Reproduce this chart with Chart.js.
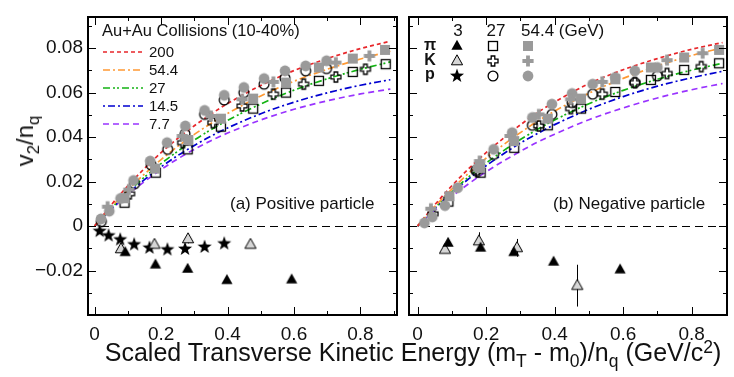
<!DOCTYPE html>
<html><head><meta charset="utf-8">
<script src="https://cdn.jsdelivr.net/npm/chart.js@4.4.0/dist/chart.umd.min.js"></script>
<style>
html,body{margin:0;padding:0;background:#fff;width:734px;height:377px;overflow:hidden;position:relative;}
canvas{position:absolute;top:0;}
#cL{left:0;} #cR{left:402px;}
.t{position:absolute;font-family:"Liberation Sans",Arial,sans-serif;color:#111;white-space:nowrap;line-height:1;}
#xt{left:413px;top:340px;font-size:25px;transform:translateX(-50%);}
#yt{left:25px;top:141px;font-size:24px;transform:translate(-50%,-50%) rotate(-90deg);}
sub{font-size:70%;vertical-align:baseline;position:relative;top:0.35em;}
sup{font-size:70%;vertical-align:baseline;position:relative;top:-0.45em;}
#err{position:absolute;left:0;top:0;color:red;font-size:10px;font-family:monospace;}
</style></head><body>
<canvas id="cL" width="404" height="377"></canvas>
<canvas id="cR" width="332" height="377"></canvas>
<div class="t" id="xt">Scaled Transverse Kinetic Energy (m<sub>T</sub> - m<sub>0</sub>)/n<sub>q</sub> (GeV/c<sup>2</sup>)</div>
<div class="t" id="yt">v<sub>2</sub>/n<sub>q</sub></div>
<div id="err"></div>
<script>
// ---------- axis ticks ----------
const xTicks = [0, 0.2, 0.4, 0.6, 0.8];
const xTickLabels = ['0', '0.2', '0.4', '0.6', '0.8'];
const xMinorTicks = [0.1, 0.3, 0.5, 0.7, 0.9];
const yTicks = [-0.02, 0, 0.02, 0.04, 0.06, 0.08];
const yTickLabels = ['\u22120.02', '0', '0.02', '0.04', '0.06', '0.08'];
const yMinorTicks = [-0.03, -0.01, 0.01, 0.03, 0.05, 0.07, 0.09];

// ---------- fit curves (energies in GeV) ----------
const energies = ['200', '54.4', '27', '14.5', '7.7'];
const curveX = [0, 0.05, 0.1, 0.15, 0.2, 0.25, 0.3, 0.35, 0.4, 0.5, 0.6, 0.7, 0.8, 0.89];
const posFit200 = [0, 0.0095, 0.0181, 0.0259, 0.0330, 0.0394, 0.0451, 0.0503, 0.0551, 0.0632, 0.0699, 0.0753, 0.0798, 0.0831];
const posFit54 = [0, 0.0085, 0.0163, 0.0234, 0.0299, 0.0358, 0.0412, 0.0461, 0.0506, 0.0585, 0.0651, 0.0705, 0.0751, 0.0786];
const posFit27 = [0, 0.0080, 0.0153, 0.0220, 0.0281, 0.0336, 0.0387, 0.0433, 0.0475, 0.0549, 0.0611, 0.0662, 0.0705, 0.0738];
const posFit14 = [0, 0.0077, 0.0147, 0.0209, 0.0266, 0.0317, 0.0362, 0.0404, 0.0441, 0.0505, 0.0557, 0.0599, 0.0633, 0.0658];
const posFit7 = [0, 0.0074, 0.0141, 0.0200, 0.0254, 0.0302, 0.0345, 0.0384, 0.0418, 0.0477, 0.0525, 0.0563, 0.0594, 0.0616];
const negFit200 = [0, 0.0095, 0.0181, 0.0259, 0.0330, 0.0394, 0.0455, 0.0510, 0.0558, 0.0640, 0.0703, 0.0753, 0.0795, 0.0825];
const negFit54 = [0, 0.0087, 0.0166, 0.0239, 0.0305, 0.0365, 0.0420, 0.0471, 0.0517, 0.0597, 0.0664, 0.0720, 0.0767, 0.0802];
const negFit27 = [0, 0.0081, 0.0155, 0.0222, 0.0283, 0.0338, 0.0389, 0.0435, 0.0477, 0.0550, 0.0610, 0.0660, 0.0701, 0.0732];
const negFit14 = [0, 0.0078, 0.0149, 0.0213, 0.0271, 0.0324, 0.0373, 0.0416, 0.0456, 0.0525, 0.0582, 0.0629, 0.0667, 0.0696];
const negFit7 = [0, 0.0070, 0.0133, 0.0191, 0.0244, 0.0292, 0.0336, 0.0377, 0.0413, 0.0478, 0.0531, 0.0576, 0.0613, 0.0641];

// ---------- measured points [x, v2/nq] ----------
const posPi54 = [[0.09,0.0125],[0.182,0.0258],[0.282,0.0387],[0.38,0.0483],[0.477,0.0573],[0.576,0.0645],[0.675,0.0713],[0.777,0.0753],[0.874,0.0792]];
const posK54 = [[0.039,0.0087],[0.103,0.0164],[0.264,0.0405],[0.35,0.0495],[0.444,0.057],[0.538,0.0648],[0.726,0.0735],[0.827,0.0765]];
const posP54 = [[0.019,0.0032],[0.044,0.0067],[0.078,0.0124],[0.117,0.0205],[0.167,0.0292],[0.218,0.0375],[0.273,0.045],[0.331,0.052],[0.39,0.0588],[0.449,0.0623],[0.51,0.0663],[0.573,0.0698],[0.635,0.072],[0.698,0.0743]];
const posPi27 = [[0.09,0.0105],[0.184,0.024],[0.28,0.0345],[0.38,0.0447],[0.477,0.0528],[0.576,0.060],[0.675,0.0653],[0.777,0.0693],[0.876,0.0728]];
const posK27 = [[0.105,0.0145],[0.265,0.0375],[0.356,0.0465],[0.444,0.054],[0.538,0.0593],[0.629,0.0638],[0.726,0.067],[0.815,0.0705]];
const posP27 = [[0.02,0.002],[0.12,0.019],[0.17,0.0275],[0.22,0.0345],[0.272,0.0415],[0.331,0.0502],[0.39,0.0567],[0.449,0.060],[0.51,0.0638],[0.573,0.0665],[0.635,0.0698],[0.698,0.0708]];
const posPi3 = [[0.092,-0.0118],[0.183,-0.0174],[0.28,-0.0193],[0.398,-0.0244],[0.593,-0.0241]];
const posK3 = [[0.079,-0.0103],[0.18,-0.0083],[0.281,-0.0058],[0.469,-0.0083]];
const posK3err = [0.001, 0.001, 0.002, 0.001];
const posP3 = [[0.015,-0.0023],[0.042,-0.0043],[0.077,-0.0061],[0.119,-0.0083],[0.165,-0.0098],[0.219,-0.0106],[0.272,-0.0103],[0.331,-0.0094],[0.39,-0.0079]];

const negPi54 = [[0.093,0.0134],[0.182,0.0262],[0.282,0.0382],[0.38,0.0483],[0.477,0.0573],[0.577,0.066],[0.681,0.0713],[0.778,0.0758],[0.88,0.0792]];
const negK54 = [[0.039,0.0078],[0.181,0.0292],[0.27,0.0405],[0.354,0.0502],[0.447,0.057],[0.539,0.0648],[0.728,0.0746],[0.832,0.0777]];
const negP54 = [[0.02,0.0014],[0.043,0.0041],[0.08,0.0092],[0.117,0.0172],[0.176,0.0262],[0.222,0.0345],[0.276,0.042],[0.335,0.0488],[0.392,0.0548],[0.451,0.0596],[0.511,0.0638],[0.577,0.0668],[0.634,0.0698],[0.70,0.0713]];
const negPi27 = [[0.09,0.011],[0.184,0.024],[0.282,0.0352],[0.38,0.0453],[0.477,0.0528],[0.577,0.0603],[0.681,0.0657],[0.778,0.0702],[0.88,0.0732]];
const negK27 = [[0.045,0.0055],[0.175,0.0245],[0.354,0.045],[0.447,0.0528],[0.539,0.0593],[0.634,0.0645],[0.728,0.0686],[0.828,0.0717]];
const negP27 = [[0.17,0.025],[0.222,0.0322],[0.335,0.0453],[0.392,0.0502],[0.451,0.0555],[0.511,0.0593],[0.634,0.0645],[0.70,0.0675]];
const negPi3 = [[0.089,-0.0076],[0.184,-0.0098],[0.281,-0.0118],[0.397,-0.0161],[0.591,-0.0196]];
const negK3 = [[0.08,-0.0106],[0.179,-0.0068],[0.29,-0.0098],[0.466,-0.0268]];
const negK3err = [0.001, 0.004, 0.004, 0.0094];

// ---------- styling ----------
const FONT = '"Liberation Sans", Arial, sans-serif';
const GRAY = '#9a9a9a';
const COLORS = ['#e8262a', '#ff9933', '#13b313', '#0000d0', '#9933ff'];
const DASHES = [[4,3], [7,3,2,3], [7,3,2,2,2,3], [2,3,7,3], [6,4]];

function mk(sz, fn){const c=document.createElement('canvas');c.width=sz;c.height=sz;const g=c.getContext('2d');fn(g,sz/2);return c;}
function plusPath(g,c,h,a){g.beginPath();g.moveTo(c-a,c-h);g.lineTo(c+a,c-h);g.lineTo(c+a,c-a);g.lineTo(c+h,c-a);g.lineTo(c+h,c+a);g.lineTo(c+a,c+a);g.lineTo(c+a,c+h);g.lineTo(c-a,c+h);g.lineTo(c-a,c+a);g.lineTo(c-h,c+a);g.lineTo(c-h,c-a);g.lineTo(c-a,c-a);g.closePath();}
function triPath(g,c){g.beginPath();g.moveTo(c,c-6.2);g.lineTo(c+5.6,c+3.8);g.lineTo(c-5.6,c+3.8);g.closePath();}
function starPath(g,c){g.beginPath();for(let i=0;i<10;i++){const r=i%2?3.0:7.4;const a=-Math.PI/2+i*Math.PI/5;const px=c+r*Math.cos(a),py=c+r*Math.sin(a);if(i)g.lineTo(px,py);else g.moveTo(px,py);}g.closePath();}
const M = {
  grayCircle: mk(14,(g,c)=>{g.fillStyle=GRAY;g.beginPath();g.arc(c,c,5.4,0,7);g.fill();}),
  openCircle: mk(14,(g,c)=>{g.strokeStyle='#000';g.lineWidth=1.3;g.beginPath();g.arc(c,c,4.9,0,7);g.stroke();}),
  graySquare: mk(14,(g,c)=>{g.fillStyle=GRAY;g.fillRect(c-5,c-5,10,10);}),
  openSquare: mk(14,(g,c)=>{g.strokeStyle='#000';g.lineWidth=1.3;g.strokeRect(c-4.5,c-4.5,9,9);}),
  grayPlus: mk(14,(g,c)=>{g.fillStyle=GRAY;plusPath(g,c,5.6,1.9);g.fill();}),
  openCross: mk(14,(g,c)=>{g.strokeStyle='#000';g.lineWidth=1.3;plusPath(g,c,5,1.8);g.stroke();}),
  blackTri: mk(14,(g,c)=>{g.fillStyle='#000';triPath(g,c);g.fill();}),
  openTri: mk(14,(g,c)=>{g.fillStyle='#d6d6d6';g.strokeStyle='#000';g.lineWidth=1;triPath(g,c);g.fill();g.stroke();}),
  star: mk(18,(g,c)=>{g.fillStyle='#000';starPath(g,c);g.fill();})
};

function pts(arr){return arr.map(p=>({x:p[0],y:p[1]}));}
function curveDs(ys,i){return {label:energies[i]+' GeV',data:curveX.map((x,k)=>({x:x,y:ys[k]})),showLine:true,borderColor:COLORS[i],borderDash:DASHES[i],borderWidth:1.7,pointRadius:0,fill:false,cubicInterpolationMode:'monotone',order:10};}
function markDs(label,arr,img,order,err){return {label:label,data:pts(arr),pointStyle:img,pointRadius:6,pointHoverRadius:6,showLine:false,order:order,errY:err||null};}
function lab(vals,labels,v){const i=vals.findIndex(t=>Math.abs(t-v)<1e-9);return i>=0?labels[i]:'';}
function report(e){document.getElementById('err').textContent+=' '+e;}

function drawFrame(chart){
  const ctx=chart.ctx, a=chart.chartArea, xs=chart.scales.x, ys=chart.scales.y;
  ctx.save();
  ctx.setLineDash([]);ctx.globalAlpha=1;ctx.strokeStyle='#000';ctx.lineWidth=1;
  const tick=(vals,len,isX)=>{for(const v of vals){
    if(isX){const p=Math.round(xs.getPixelForValue(v))+0.5;ctx.beginPath();ctx.moveTo(p,a.bottom);ctx.lineTo(p,a.bottom-len);ctx.moveTo(p,a.top);ctx.lineTo(p,a.top+len);ctx.stroke();}
    else{const p=Math.round(ys.getPixelForValue(v))+0.5;ctx.beginPath();ctx.moveTo(a.left,p);ctx.lineTo(a.left+len,p);ctx.moveTo(a.right,p);ctx.lineTo(a.right-len,p);ctx.stroke();}
  }};
  tick(xTicks,8,true);tick(xMinorTicks,4,true);tick(yTicks,8,false);tick(yMinorTicks,4,false);
  ctx.lineWidth=2;
  ctx.beginPath();ctx.rect(a.left,a.top,a.right-a.left,a.bottom-a.top);ctx.stroke();
  ctx.restore();
}

const framePlugin = {
  id:'panelFrame',
  beforeDatasetsDraw(chart){
    try{
    const ctx=chart.ctx, a=chart.chartArea, xs=chart.scales.x, ys=chart.scales.y;
    ctx.save();
    const y0=Math.round(ys.getPixelForValue(0))+0.5;
    ctx.strokeStyle='#000';ctx.lineWidth=1;ctx.setLineDash([8,5]);
    ctx.beginPath();ctx.moveTo(a.left,y0);ctx.lineTo(a.right,y0);ctx.stroke();
    ctx.setLineDash([]);
    chart.data.datasets.forEach(ds=>{
      if(!ds.errY) return;
      ds.data.forEach((p,i)=>{const px=Math.round(xs.getPixelForValue(p.x))+0.5;ctx.beginPath();ctx.moveTo(px,Math.max(a.top,ys.getPixelForValue(p.y+ds.errY[i])));ctx.lineTo(px,Math.min(a.bottom,ys.getPixelForValue(p.y-ds.errY[i])));ctx.stroke();});
    });
    ctx.restore();
    }catch(e){report('b:'+e.message);}
  },
  afterDatasetsDraw(chart){ try{ drawFrame(chart); }catch(e){report('f:'+e.message);} }
};

const legendLeft = {
  id:'legendLeft',
  afterDraw(chart){
    const ctx=chart.ctx;ctx.save();
    ctx.fillStyle='#111';ctx.textBaseline='middle';ctx.textAlign='left';
    ctx.font='16.5px '+FONT;
    ctx.fillText('Au+Au Collisions (10-40%)',102,31);
    ctx.font='15px '+FONT;
    const ly=[52,70,88,106,124];
    energies.forEach((e,i)=>{
      ctx.strokeStyle=COLORS[i];ctx.lineWidth=1.7;ctx.setLineDash(DASHES[i]);
      ctx.beginPath();ctx.moveTo(103,ly[i]);ctx.lineTo(143,ly[i]);ctx.stroke();
      ctx.setLineDash([]);ctx.fillStyle='#111';ctx.fillText(e,149,ly[i]+1);
    });
    ctx.font='17px '+FONT;
    ctx.fillText('(a) Positive particle',230,204);
    ctx.restore();
  }
};
const legendRight = {
  id:'legendRight',
  afterDraw(chart){
    const ctx=chart.ctx;ctx.save();
    ctx.fillStyle='#111';ctx.font='17px '+FONT;ctx.textBaseline='middle';
    ctx.textAlign='center';ctx.fillText('3',56,31);ctx.fillText('27',94,31);
    ctx.textAlign='left';ctx.fillText('54.4 (GeV)',119,31);
    ctx.fillText('(b) Negative particle',151,204);
    ctx.font='bold 16px '+FONT;ctx.textAlign='center';
    ctx.fillText('\u03c0',28,46);ctx.fillText('K',28,61);ctx.fillText('p',28,75);
    const grid=[[M.blackTri,M.openSquare,M.graySquare],[M.openTri,M.openCross,M.grayPlus],[M.star,M.openCircle,M.grayCircle]];
    const cx=[55,91,126], ry=[46,61,76];
    grid.forEach((row,r)=>row.forEach((img,c)=>ctx.drawImage(img,Math.round(cx[c]-img.width/2),Math.round(ry[r]-img.height/2))));
    ctx.restore();
  }
};

function baseOptions(isLeft){
  const yScale={type:'linear',min:-0.04,max:0.094,display:isLeft,
         grid:{display:false,drawTicks:false},border:{display:false},
         afterBuildTicks:s=>{s.ticks=yTicks.map(v=>({value:v}));},
         ticks:{padding:5,autoSkip:false,color:'#111',font:{size:19,family:FONT},callback:v=>lab(yTicks,yTickLabels,v)}};
  if(isLeft) yScale.afterFit=s=>{s.width=88;};
  return {
    responsive:false, animation:false, events:[],
    layout:{padding:isLeft?{left:0,right:2,top:17,bottom:0}:{left:1,right:5,top:17,bottom:0}},
    plugins:{legend:{display:false},tooltip:{enabled:false}},
    scales:{
      x:{type:'linear',min:isLeft?-0.02:-0.025,max:isLeft?0.91:0.903,
         grid:{display:false,drawTicks:false},border:{display:false},
         afterBuildTicks:s=>{s.ticks=xTicks.map(v=>({value:v}));},
         afterFit:s=>{s.height=62;},
         ticks:{padding:8,autoSkip:false,maxRotation:0,color:'#111',font:{size:19,family:FONT},callback:v=>lab(xTicks,xTickLabels,v)}},
      y:yScale
    }
  };
}

try{
new Chart(document.getElementById('cL'),{
  type:'scatter',
  data:{datasets:[
    curveDs(posFit200,0),curveDs(posFit54,1),curveDs(posFit27,2),curveDs(posFit14,3),curveDs(posFit7,4),
    markDs('\u03c0+ 54.4',posPi54,M.graySquare,1),markDs('K+ 54.4',posK54,M.grayPlus,1),markDs('p 54.4',posP54,M.grayCircle,1),
    markDs('\u03c0+ 27',posPi27,M.openSquare,2),markDs('K+ 27',posK27,M.openCross,2),markDs('p 27',posP27,M.openCircle,2),
    markDs('\u03c0+ 3',posPi3,M.blackTri,3),markDs('K+ 3',posK3,M.openTri,3,posK3err),markDs('p 3',posP3,M.star,3)
  ]},
  options:baseOptions(true),
  plugins:[framePlugin,legendLeft]
});
new Chart(document.getElementById('cR'),{
  type:'scatter',
  data:{datasets:[
    curveDs(negFit200,0),curveDs(negFit54,1),curveDs(negFit27,2),curveDs(negFit14,3),curveDs(negFit7,4),
    markDs('\u03c0- 54.4',negPi54,M.graySquare,1),markDs('K- 54.4',negK54,M.grayPlus,1),markDs('pbar 54.4',negP54,M.grayCircle,1),
    markDs('\u03c0- 27',negPi27,M.openSquare,2),markDs('K- 27',negK27,M.openCross,2),markDs('pbar 27',negP27,M.openCircle,2),
    markDs('\u03c0- 3',negPi3,M.blackTri,3),markDs('K- 3',negK3,M.openTri,3,negK3err)
  ]},
  options:baseOptions(false),
  plugins:[framePlugin,legendRight]
});
}catch(e){report('c:'+e.message);}
</script>
</body></html>
